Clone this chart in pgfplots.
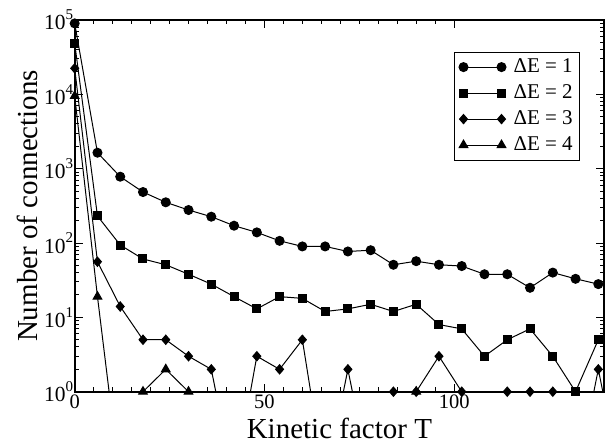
\documentclass[border=0pt]{standalone}
\usepackage{fontspec}
\setmainfont{Liberation Serif}
\usepackage{pgfplots}
\pgfplotsset{compat=1.18}
\usepackage{pgfplotstable}

% counts of connections per kinetic factor; zero counts are stored as 0.06,
% which lies below the axis floor so the lines drop out of view
\pgfplotstableread{
T   n
0   90000
6   1640
12  780
18  485
24  353
30  278
36  226
42  171
48  139
54  107
60  90
66  90
72  77
78  80
84  51
90  57
96  51
102 49
108 38
114 38
120 25
126 40
132 33
138 28
}\dEone
\pgfplotstableread{
T   n
0   48600
6   231
12  94
18  61
24  51
30  38
36  28
42  19
48  13
54  19
60  18
66  12
72  13
78  15
84  12
90  15
96  8
102 7
108 3
114 5
120 7
126 3
132 1
138 5
}\dEtwo
\pgfplotstableread{
T   n
0   22400
6   56
12  14
18  5
24  5
30  3
36  2
42  0.06
48  3
54  2
60  5
66  0.06
72  2
78  0.06
84  1
90  1
96  3
102 1
108 0.06
114 1
120 1
126 1
132 0.06
138 2
144 0.06
}\dEthree
\pgfplotstableread{
T   n
0   9500
6   19
12  0.06
18  1
24  2
30  1
36  0.06
42  0.06
48  0.06
54  0.06
60  0.06
66  0.06
72  0.06
78  0.06
84  0.06
90  1
96  0.06
102 0.06
108 0.06
114 0.06
120 0.06
126 0.06
132 0.06
138 0.06
}\dEfour

\newcommand\tp[1]{10\raisebox{0.48em}{\fontsize{15}{15}\selectfont #1}}

\begin{document}
\begin{tikzpicture}[x=1pt,y=1pt]
\begin{axis}[
  at={(74.7pt,53.3pt)}, anchor=south west,
  width=529.3pt, height=371.7pt, scale only axis,
  xmin=0, xmax=139.5,
  ymode=log, ymin=1, ymax=1e5,
  xtick={0,50,100}, minor x tick num=9,
  ytick={1,10,100,1000,10000,100000},
  yticklabels={\tp{0},\tp{1},\tp{2},\tp{3},\tp{4},\tp{5}},
  axis line style={line width=1.6pt},
  major tick length=8pt, minor tick length=4.5pt,
  every tick/.style={black, line width=1pt},
  xticklabel style={font=\fontsize{20.5}{24}\selectfont},
  yticklabel style={font=\fontsize{21.5}{24}\selectfont, xshift=2pt},
  /pgf/number format/assume math mode=true,
  xlabel={Kinetic factor T},
  ylabel={Number of connections},
  label style={font=\fontsize{29}{34}\selectfont},
  xlabel style={at={(axis description cs:0.5,0)}, anchor=base, yshift=-46.3pt},
  ylabel style={at={(axis description cs:0,0.5)}, anchor=base, yshift=37.7pt},
  legend style={at={(rel axis cs:0.955,0.915)}, anchor=north east,
    draw=black, line width=1pt, font=\fontsize{21}{25}\selectfont,
    row sep=0pt, column sep=5.5pt, inner xsep=5pt, inner ysep=2pt,
    nodes={text height=15pt, text depth=4.5pt, inner ysep=3.25pt, inner xsep=2pt}},
  legend cell align=left,
  legend image code/.code={\draw[#1] plot coordinates {(0pt,0pt) (38pt,0pt)};},
  every axis plot/.append style={black, line width=1pt},
]
\addplot[mark=*, mark size=4.5pt] table[x=T,y=n] {\dEone};
\addlegendentry{ΔE = 1}
\addplot[mark=square*, mark size=4pt] table[x=T,y=n] {\dEtwo};
\addlegendentry{ΔE = 2}
\addplot[mark=diamond*, mark size=4.6pt, mark options={xscale=1.15}] table[x=T,y=n] {\dEthree};
\addlegendentry{ΔE = 3}
\addplot[mark=triangle*, mark size=5pt] table[x=T,y=n] {\dEfour};
\addlegendentry{ΔE = 4}
\end{axis}
\pgfresetboundingbox
\path (0,0) rectangle (607,445);
\end{tikzpicture}
\end{document}
